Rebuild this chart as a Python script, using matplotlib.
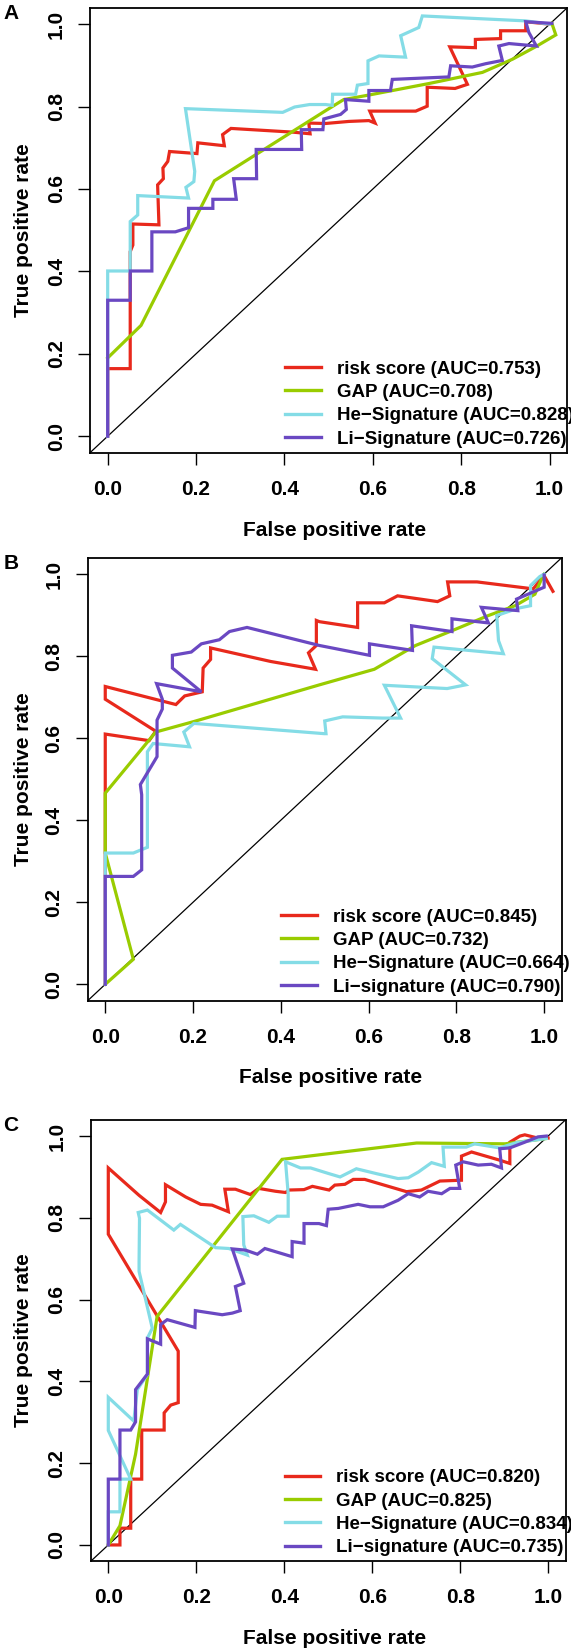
import matplotlib
matplotlib.use("Agg")
import matplotlib.pyplot as plt
from matplotlib.lines import Line2D

plt.rcParams['font.family'] = ['Liberation Sans', 'DejaVu Sans']
plt.rcParams['font.weight'] = 'bold'

# ---- panel A ----
A_RISK_FPR = [0, 0, 0.051, 0.051, 0.057, 0.057, 0.116, 0.113, 0.126, 0.125, 0.136, 0.140, 0.202, 0.204,
              0.264, 0.260, 0.279, 0.419, 0.458, 0.455, 0.493, 0.546, 0.591, 0.605, 0.593, 0.697, 0.723,
              0.723, 0.786, 0.814, 0.774, 0.832, 0.832, 0.889, 0.889, 0.946, 0.946, 1.0]
A_RISK_TPR = [0, 0.164, 0.164, 0.448, 0.464, 0.515, 0.513, 0.610, 0.625, 0.651, 0.667, 0.691, 0.686, 0.712,
              0.705, 0.732, 0.747, 0.738, 0.734, 0.760, 0.759, 0.764, 0.766, 0.760, 0.789, 0.789, 0.801,
              0.847, 0.844, 0.854, 0.945, 0.943, 0.963, 0.965, 0.984, 0.984, 1.006, 1.0]
A_GAP_FPR = [0, 0.0755, 0.2415, 0.493, 0.534, 0.591, 0.727, 0.848, 0.916, 0.968, 1.014, 1.005]
A_GAP_TPR = [0.190, 0.269, 0.620, 0.790, 0.817, 0.828, 0.856, 0.883, 0.915, 0.945, 0.974, 1.002]
A_HE_FPR = [0, 0, 0.051, 0.051, 0.068, 0.068, 0.183, 0.177, 0.195, 0.197, 0.176, 0.396, 0.423, 0.457,
            0.493, 0.508, 0.509, 0.561, 0.565, 0.589, 0.589, 0.614, 0.674, 0.663, 0.704, 0.712, 0.946, 1.0]
A_HE_TPR = [0, 0.401, 0.401, 0.521, 0.537, 0.584, 0.578, 0.604, 0.618, 0.643, 0.795, 0.786, 0.799, 0.805,
            0.805, 0.803, 0.830, 0.830, 0.852, 0.856, 0.911, 0.923, 0.920, 0.972, 0.992, 1.020, 1.008, 1.0]
A_LI_FPR = [0, 0, 0.051, 0.051, 0.100, 0.100, 0.153, 0.183, 0.183, 0.238, 0.238, 0.291, 0.285, 0.337,
            0.336, 0.439, 0.438, 0.487, 0.489, 0.527, 0.540, 0.538, 0.591, 0.591, 0.640, 0.644, 0.772,
            0.776, 0.825, 0.855, 0.893, 0.885, 0.908, 0.970, 0.953, 0.946, 1.005]
A_LI_TPR = [0, 0.330, 0.330, 0.401, 0.401, 0.496, 0.496, 0.506, 0.553, 0.553, 0.575, 0.575, 0.625, 0.625,
            0.696, 0.696, 0.744, 0.744, 0.770, 0.781, 0.793, 0.817, 0.813, 0.839, 0.839, 0.866, 0.872,
            0.899, 0.896, 0.904, 0.912, 0.947, 0.953, 0.947, 0.980, 1.006, 1.002]
A_AUC = ['0.753', '0.708', '0.828', '0.726']

# ---- panel B ----
B_RISK_FPR = [0, 0, 0, 0.100, 0.115, 0, 0, 0.161, 0.181, 0.221, 0.223, 0.240, 0.240, 0.377, 0.479,
              0.463, 0.481, 0.481, 0.488, 0.575, 0.575, 0.636, 0.666, 0.757, 0.785, 0.780, 0.847, 0.975,
              1.0, 1.020]
B_RISK_TPR = [0, 0.466, 0.610, 0.594, 0.617, 0.695, 0.726, 0.682, 0.703, 0.713, 0.771, 0.792, 0.820,
              0.787, 0.768, 0.808, 0.826, 0.887, 0.884, 0.870, 0.930, 0.930, 0.947, 0.933, 0.947, 0.981,
              0.981, 0.964, 0.996, 0.958]
B_GAP_FPR = [0, 0.064, 0, 0, 0.115, 0.200, 0.488, 0.613, 0.707, 0.790, 0.873, 0.934, 0.979, 0.994, 1.0]
B_GAP_TPR = [0, 0.061, 0.320, 0.466, 0.615, 0.640, 0.730, 0.768, 0.826, 0.862, 0.899, 0.923, 0.951, 0.988, 1.0]
B_HE_FPR = [0, 0, 0.064, 0.096, 0.096, 0.109, 0.192, 0.179, 0.202, 0.499, 0.503, 0.500, 0.541, 0.632,
            0.673, 0.636, 0.779, 0.821, 0.745, 0.749, 0.907, 0.896, 0.892, 0.941, 0.969, 0.969, 0.990, 1.0]
B_HE_TPR = [0, 0.320, 0.320, 0.334, 0.567, 0.587, 0.579, 0.615, 0.636, 0.611, 0.611, 0.642, 0.652, 0.649,
            0.649, 0.729, 0.721, 0.730, 0.794, 0.822, 0.806, 0.838, 0.899, 0.917, 0.923, 0.972, 0.994, 1.0]
B_LI_FPR = [0, 0, 0.064, 0.083, 0.083, 0.080, 0.118, 0.118, 0.130, 0.130, 0.117, 0.219, 0.153, 0.153,
            0.196, 0.219, 0.260, 0.283, 0.323, 0.488, 0.602, 0.602, 0.700, 0.698, 0.790, 0.790, 0.873,
            0.857, 0.940, 0.937, 1.0, 1.0]
B_LI_TPR = [0, 0.263, 0.263, 0.279, 0.462, 0.487, 0.555, 0.644, 0.671, 0.695, 0.733, 0.713, 0.771, 0.802,
            0.810, 0.830, 0.840, 0.860, 0.870, 0.826, 0.802, 0.830, 0.814, 0.874, 0.860, 0.891, 0.881,
            0.919, 0.911, 0.939, 0.968, 0.998]
B_AUC = ['0.845', '0.732', '0.664', '0.790']

# ---- panel C ----
C_RISK_FPR = [0, 0.0265, 0.0265, 0.051, 0.051, 0.076, 0.076, 0.127, 0.127, 0.142, 0.159, 0.159, 0, 0,
              0.070, 0.119, 0.130, 0.130, 0.176, 0.210, 0.236, 0.273, 0.265, 0.289, 0.323, 0.342, 0.380,
              0.403, 0.411, 0.445, 0.464, 0.502, 0.515, 0.538, 0.557, 0.583, 0.678, 0.712, 0.754, 0.803,
              0.803, 0.826, 0.890, 0.913, 0.913, 0.936, 0.947, 0.977, 1.0]
C_RISK_TPR = [0, 0, 0.041, 0.041, 0.161, 0.161, 0.281, 0.281, 0.323, 0.342, 0.348, 0.474, 0.760, 0.922,
              0.855, 0.813, 0.839, 0.881, 0.851, 0.833, 0.831, 0.815, 0.870, 0.870, 0.857, 0.872, 0.865,
              0.862, 0.868, 0.869, 0.877, 0.868, 0.880, 0.882, 0.894, 0.894, 0.864, 0.868, 0.890, 0.892,
              0.951, 0.961, 0.941, 0.933, 0.985, 1.0, 1.003, 0.995, 0.995]
C_GAP_FPR = [0, 0.0265, 0.062, 0.111, 0.395, 0.502, 0.701, 0.902, 0.996]
C_GAP_TPR = [0, 0.047, 0.222, 0.559, 0.943, 0.957, 0.983, 0.981, 0.994]
C_HE_FPR = [0, 0, 0.0265, 0.0265, 0.051, 0, 0, 0.058, 0.066, 0.089, 0.089, 0.100, 0.070, 0.070, 0.071,
            0.068, 0.089, 0.149, 0.164, 0.244, 0.274, 0.316, 0.308, 0.306, 0.331, 0.365, 0.384, 0.409,
            0.409, 0.403, 0.437, 0.460, 0.502, 0.527, 0.564, 0.610, 0.659, 0.682, 0.705, 0.735, 0.764,
            0.761, 0.814, 0.833, 0.890, 0.928, 0.996]
C_HE_TPR = [0, 0.081, 0.081, 0.161, 0.161, 0.280, 0.361, 0.303, 0.380, 0.417, 0.506, 0.530, 0.669, 0.693,
            0.799, 0.813, 0.819, 0.770, 0.784, 0.727, 0.725, 0.709, 0.734, 0.803, 0.805, 0.789, 0.804,
            0.804, 0.859, 0.937, 0.922, 0.922, 0.908, 0.900, 0.920, 0.908, 0.896, 0.898, 0.912, 0.935,
            0.926, 0.973, 0.973, 0.981, 0.971, 0.984, 0.994]
C_LI_FPR = [0, 0, 0.0265, 0.0265, 0.051, 0.062, 0.062, 0.089, 0.089, 0.119, 0.119, 0.134, 0.197, 0.198,
            0.259, 0.282, 0.300, 0.289, 0.308, 0.282, 0.312, 0.339, 0.356, 0.418, 0.418, 0.445, 0.445,
            0.479, 0.496, 0.500, 0.523, 0.568, 0.595, 0.625, 0.659, 0.682, 0.708, 0.727, 0.758, 0.777,
            0.799, 0.790, 0.807, 0.841, 0.871, 0.894, 0.890, 0.913, 0.947, 0.977, 0.996]
C_LI_TPR = [0, 0.161, 0.161, 0.281, 0.281, 0.301, 0.380, 0.418, 0.504, 0.491, 0.539, 0.551, 0.532, 0.573,
            0.563, 0.567, 0.573, 0.632, 0.640, 0.724, 0.721, 0.711, 0.725, 0.705, 0.742, 0.738, 0.786,
            0.786, 0.781, 0.821, 0.823, 0.833, 0.827, 0.827, 0.843, 0.859, 0.851, 0.865, 0.859, 0.872,
            0.872, 0.929, 0.937, 0.929, 0.931, 0.922, 0.969, 0.971, 0.985, 0.998, 1.0]
C_AUC = ['0.820', '0.825', '0.834', '0.735']

COLORS = ['#E8291C', '#99CC00', '#84DCE6', '#6A48C2']
NAMES_A = ['risk score', 'GAP', 'He\u2212Signature', 'Li\u2212Signature']
NAMES_BC = ['risk score', 'GAP', 'He\u2212Signature', 'Li\u2212signature']

W, H = 571, 1652
fig = plt.figure(figsize=(W / 100, H / 100), dpi=100)

# pixel boxes: left, right, top, bottom
panels = [
    ('A', (90, 567.3, 7.7, 452.7), NAMES_A, A_AUC,
     [(A_RISK_FPR, A_RISK_TPR), (A_GAP_FPR, A_GAP_TPR), (A_HE_FPR, A_HE_TPR), (A_LI_FPR, A_LI_TPR)]),
    ('B', (87.7, 561.7, 557.7, 1000.7), NAMES_BC, B_AUC,
     [(B_RISK_FPR, B_RISK_TPR), (B_GAP_FPR, B_GAP_TPR), (B_HE_FPR, B_HE_TPR), (B_LI_FPR, B_LI_TPR)]),
    ('C', (90.7, 565.7, 1119.7, 1561.3), NAMES_BC, C_AUC,
     [(C_RISK_FPR, C_RISK_TPR), (C_GAP_FPR, C_GAP_TPR), (C_HE_FPR, C_HE_TPR), (C_LI_FPR, C_LI_TPR)]),
]

FS = 15

for letter, (l, r, t, b), names, aucs, curves in panels:
    ax = fig.add_axes([l / W, 1 - b / H, (r - l) / W, (b - t) / H])
    ax.set_xlim(-0.04, 1.04)
    ax.set_ylim(-0.04, 1.04)
    for (fpr, tpr), col in zip(curves, COLORS):
        ax.plot(fpr, tpr, color=col, lw=2.3, solid_joinstyle='miter', zorder=3)
    ax.plot([-0.04, 1.04], [-0.04, 1.04], color='black', lw=0.9, zorder=2)

    ticks = [0, 0.2, 0.4, 0.6, 0.8, 1.0]
    ax.set_xticks(ticks, ['%.1f' % v for v in ticks])
    ax.set_yticks(ticks, ['%.1f' % v for v in ticks])
    ax.tick_params(length=8.5, width=1.0, labelsize=FS, direction='out')
    ax.tick_params(axis='x', pad=11)
    ax.tick_params(axis='y', pad=9, labelrotation=90)
    for lab in ax.get_yticklabels():
        lab.set_va('center')
    for s in ax.spines.values():
        s.set_linewidth(1.3)

    ax.set_xlabel('False positive rate', fontsize=FS, fontweight='bold')
    ax.set_ylabel('True positive rate', fontsize=FS, fontweight='bold')
    ax.xaxis.set_label_coords(0.513, -0.174)
    ax.xaxis.label.set_va('center')
    ax.yaxis.set_label_coords(-(l - 24) / (r - l), 0.5)
    ax.yaxis.label.set_va('center')

    handles = [Line2D([], [], color=c, lw=2.4) for c in COLORS]
    labels = ['%s (AUC=%s)' % (n, a) for n, a in zip(names, aucs)]
    ax.legend(handles, labels, loc='lower left', bbox_to_anchor=(0.4085, 0.011),
              frameon=False, prop={'weight': 'bold', 'size': 13.5},
              handlelength=1.9, handletextpad=0.85, labelspacing=0.335,
              borderpad=0, borderaxespad=0)

    fig.text(11 / W, 1 - (t + 6) / H, letter, fontsize=FS, fontweight='bold',
             ha='center', va='center')

fig.savefig('out.png', dpi=100)
